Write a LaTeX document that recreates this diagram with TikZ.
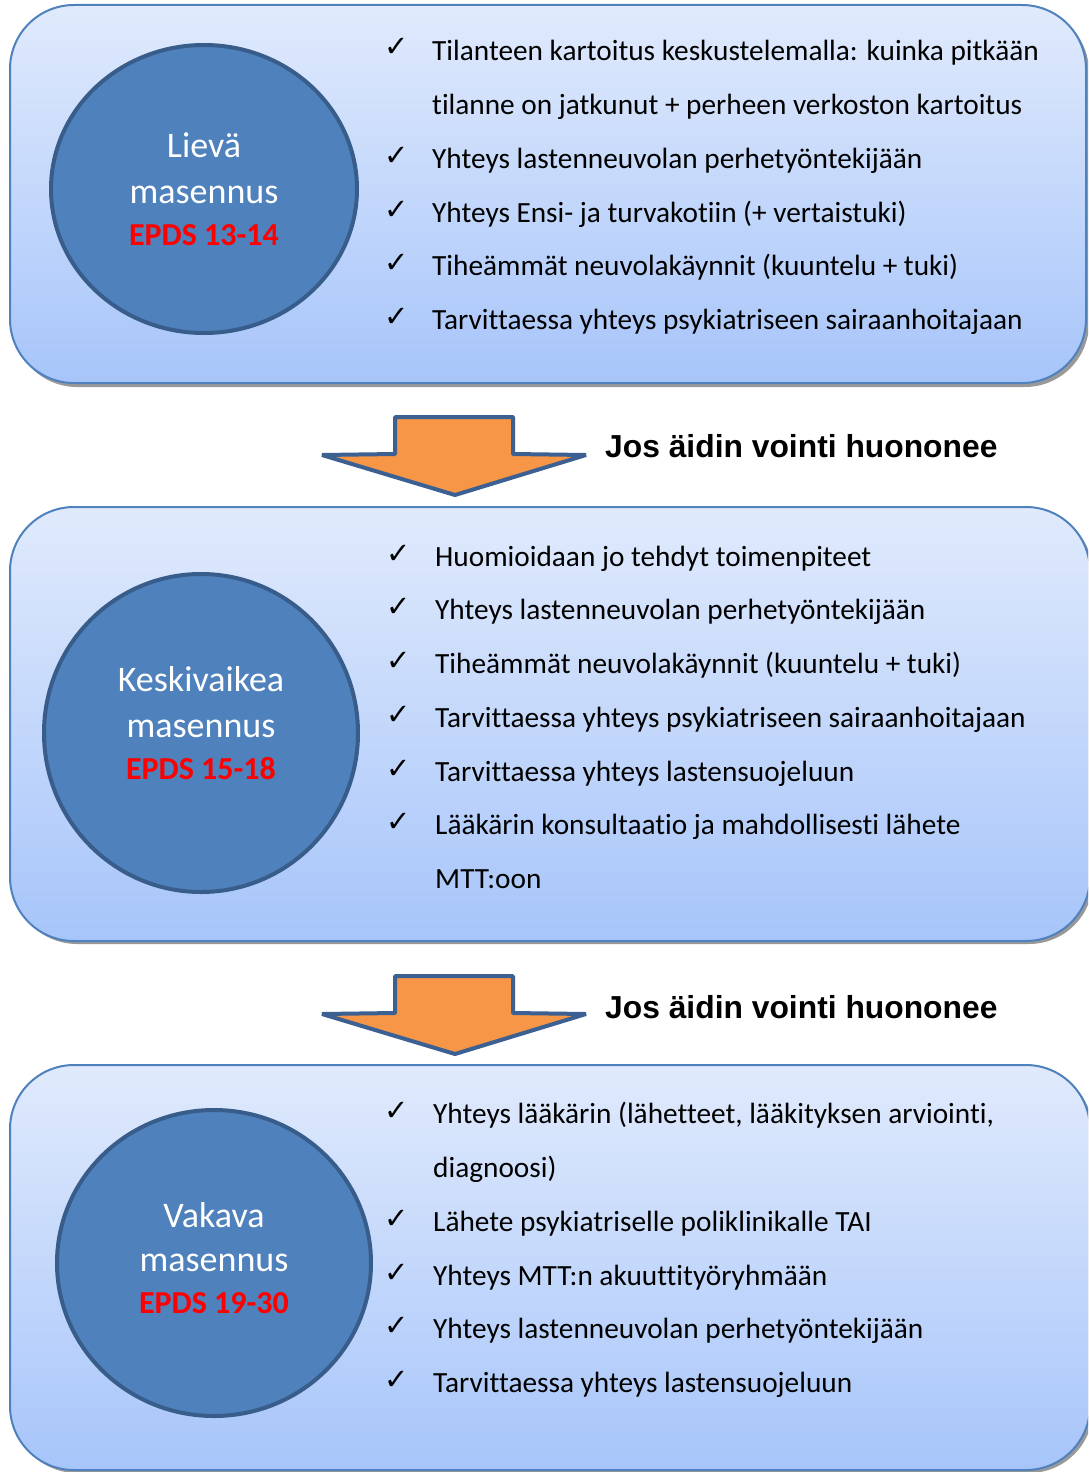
\documentclass[tikz,border=0pt]{standalone}
\usepackage{fontspec}
\setmainfont{Carlito}[RawFeature={-liga;-clig;-calt;-dlig}]
\newfontfamily\arialfont{Liberation Sans}
\newfontfamily\tickfont{DejaVu Sans}
\usetikzlibrary{shapes.geometric}

\definecolor{boxtop}{RGB}{224,234,252}
\definecolor{boxbot}{RGB}{167,197,250}
\definecolor{boxline}{RGB}{79,129,189}
\definecolor{circfill}{RGB}{79,129,189}
\definecolor{circline}{RGB}{56,93,138}
\definecolor{arrowfill}{RGB}{247,150,70}
\definecolor{arrowline}{RGB}{60,96,146}
\definecolor{epdsred}{RGB}{255,0,0}

\begin{document}
\begin{tikzpicture}[x=1pt,y=-1pt]
\tikzstyle{panel}=[rounded corners=64pt, top color=boxtop, bottom color=boxbot, draw=boxline, line width=2pt]
\tikzstyle{shadow}=[rounded corners=64pt, fill=black!40]
\tikzstyle{level}=[ellipse, fill=circfill, draw=circline, line width=4pt, inner sep=0pt]
\tikzstyle{lname}=[anchor=base, inner sep=0pt, text=white, font=\fontsize{36}{36}\selectfont]
\tikzstyle{epds}=[anchor=base, inner sep=0pt, text=epdsred, font=\bfseries\fontsize{32}{32}\selectfont]
\tikzstyle{item}=[anchor=base west, inner sep=0pt, font=\fontsize{29.3}{29.3}\selectfont]
\tikzstyle{tick}=[anchor=base west, inner sep=0pt, font=\tickfont\fontsize{29}{29}\selectfont]
\tikzstyle{down}=[fill=arrowfill, draw=arrowline, line width=4pt, line join=bevel]
\tikzstyle{cond}=[anchor=base west, inner sep=0pt, font=\arialfont\bfseries\fontsize{31.8}{31.8}\selectfont]
\useasboundingbox (0,0) rectangle (1088,1472);
\clip (0,0) rectangle (1088,1472);
\fill[white] (0,0) rectangle (1088,1472);

% panels
\fill[shadow] (13,8) rectangle (1089,387);
\draw[panel] (10,5) rectangle (1086,383);
\fill[shadow] (13,510) rectangle (1093,944);
\draw[panel] (10,507) rectangle (1090,941);
\fill[shadow] (13,1068) rectangle (1093,1473);
\draw[panel] (10,1065) rectangle (1090,1470);

% arrows
\draw[down] (395,417) -- (513,417) -- (513,454) -- (586,455) -- (455,495) -- (322,455) -- (395,454) -- cycle;
\draw[down] (395,976) -- (513,976) -- (513,1013) -- (586,1014) -- (455,1054) -- (322,1014) -- (395,1013) -- cycle;
\node[cond] (cond1) at (605,457) {Jos äidin vointi huononee};
\node[cond] (cond2) at (605,1018) {Jos äidin vointi huononee};

% level 1
\node[level, minimum width=306pt, minimum height=288pt] (lieva) at (204,189) {};
\node[lname] (lieva1) at (204,157) {Lievä};
\node[lname] (lieva2) at (204,203) {masennus};
\node[epds] (lieva3) at (204,245) {EPDS 13-14};
\node[tick] (t11) at (384,57) {✓};
\node[item] (a11) at (432,60) {Tilanteen kartoitus keskustelemalla: kuinka pitkään};
\node[item] (a12) at (432,114) {tilanne on jatkunut + perheen verkoston kartoitus};
\node[tick] (t13) at (384,165) {✓};
\node[item] (a13) at (432,168) {Yhteys lastenneuvolan perhetyöntekijään};
\node[tick] (t14) at (384,219) {✓};
\node[item] (a14) at (432,222) {Yhteys Ensi- ja turvakotiin (+ vertaistuki)};
\node[tick] (t15) at (384,272) {✓};
\node[item] (a15) at (432,275) {Tiheämmät neuvolakäynnit (kuuntelu + tuki)};
\node[tick] (t16) at (384,326) {✓};
\node[item] (a16) at (432,329) {Tarvittaessa yhteys psykiatriseen sairaanhoitajaan};

% level 2
\node[level, minimum width=314pt, minimum height=318pt] (keski) at (201,733) {};
\node[lname] (keski1) at (201,691) {Keskivaikea};
\node[lname] (keski2) at (201,737) {masennus};
\node[epds] (keski3) at (201,779) {EPDS 15-18};
\node[tick] (t21) at (386,563) {✓};
\node[item] (a21) at (435,566) {Huomioidaan jo tehdyt toimenpiteet};
\node[tick] (t22) at (386,616) {✓};
\node[item] (a22) at (435,619) {Yhteys lastenneuvolan perhetyöntekijään};
\node[tick] (t23) at (386,670) {✓};
\node[item] (a23) at (435,673) {Tiheämmät neuvolakäynnit (kuuntelu + tuki)};
\node[tick] (t24) at (386,724) {✓};
\node[item] (a24) at (435,727) {Tarvittaessa yhteys psykiatriseen sairaanhoitajaan};
\node[tick] (t25) at (386,778) {✓};
\node[item] (a25) at (435,781) {Tarvittaessa yhteys lastensuojeluun};
\node[tick] (t26) at (386,831) {✓};
\node[item] (a26) at (435,834) {Lääkärin konsultaatio ja mahdollisesti lähete};
\node[item] (a27) at (435,888) {MTT:oon};

% level 3
\node[level, minimum width=314pt, minimum height=306pt] (vakava) at (214,1263) {};
\node[lname] (vakava1) at (214,1227) {Vakava};
\node[lname] (vakava2) at (214,1271) {masennus};
\node[epds] (vakava3) at (214,1313) {EPDS 19-30};
\node[tick] (t31) at (384,1120) {✓};
\node[item] (a31) at (433,1123) {Yhteys lääkärin (lähetteet, lääkityksen arviointi,};
\node[item] (a32) at (433,1177) {diagnoosi)};
\node[tick] (t33) at (384,1228) {✓};
\node[item] (a33) at (433,1231) {Lähete psykiatriselle poliklinikalle TAI};
\node[tick] (t34) at (384,1282) {✓};
\node[item] (a34) at (433,1285) {Yhteys MTT:n akuuttityöryhmään};
\node[tick] (t35) at (384,1335) {✓};
\node[item] (a35) at (433,1338) {Yhteys lastenneuvolan perhetyöntekijään};
\node[tick] (t36) at (384,1389) {✓};
\node[item] (a36) at (433,1392) {Tarvittaessa yhteys lastensuojeluun};
\end{tikzpicture}
\end{document}
